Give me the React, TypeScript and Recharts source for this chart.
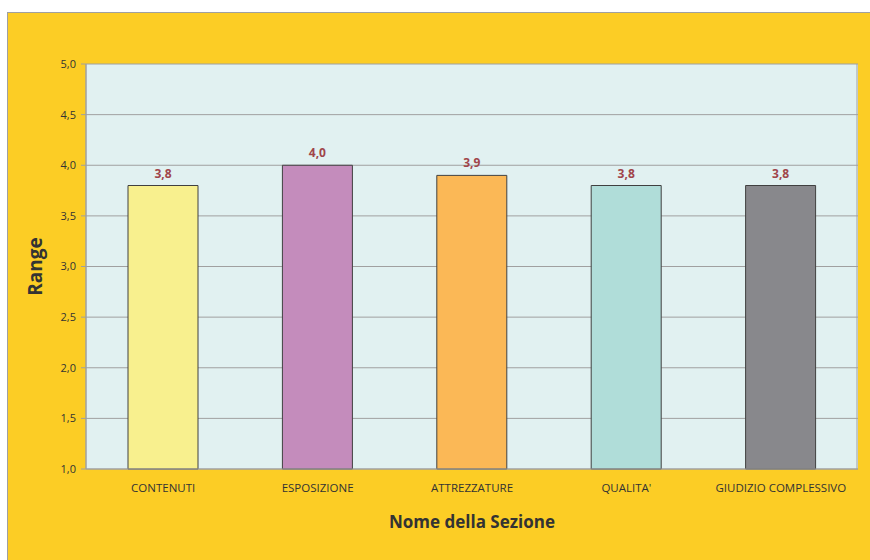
import { BarChart, Bar, XAxis, YAxis, CartesianGrid, LabelList, Cell } from "recharts";

const sections = ["CONTENUTI", "ESPOSIZIONE", "ATTREZZATURE", "QUALITA'", "GIUDIZIO COMPLESSIVO"];
const scores = [3.8, 4.0, 3.9, 3.8, 3.8];
const barColors = ["#F8F08E", "#C48CBC", "#FBB856", "#B0DDD9", "#88888C"];
const yTicks = [1, 1.5, 2, 2.5, 3, 3.5, 4, 4.5, 5];

const data = sections.map((name, i) => ({ name, score: scores[i] }));

const fmt = (v: number) => Number(v).toFixed(1).replace(".", ",");
const font = "'Open Sans', 'DejaVu Sans', sans-serif";

export default function App() {
  return (
    <div
      style={{
        position: "absolute",
        left: 7,
        top: 12,
        width: 863,
        height: 548,
        boxSizing: "border-box",
        background: "#FCCD25",
        borderTop: "1px solid #A0A0A0",
        borderLeft: "1px solid #A0A0A0",
        fontFamily: font,
      }}
    >
      <BarChart
        width={862}
        height={547}
        data={data}
        margin={{ top: 51, right: 12, bottom: 11, left: 18 }}
      >
        <CartesianGrid
          vertical
          verticalPoints={[78, 849]}
          fill="#E1F1F1"
          stroke="#A0A0A0"
          strokeOpacity={1}
        />
        <XAxis
          dataKey="name"
          height={80}
          tickLine={false}
          tickMargin={9}
          axisLine={{ stroke: "#A0A0A0" }}
          tick={{ fontSize: 11.5, fill: "#333", fontFamily: font }}
          interval={0}
          label={{
            value: "Nome della Sezione",
            position: "insideBottom",
            offset: 21,
            style: { fontSize: 17, fontWeight: "bold", fill: "#333", fontFamily: font },
          }}
        />
        <YAxis
          width={60}
          domain={[1, 5]}
          ticks={yTicks}
          tickFormatter={fmt}
          tickSize={5}
          tickMargin={5}
          axisLine={{ stroke: "#A0A0A0" }}
          tickLine={{ stroke: "#A0A0A0" }}
          tick={{ fontSize: 11, fill: "#333", fontFamily: font }}
          label={{
            value: "Range",
            angle: -90,
            position: "insideLeft",
            offset: 9,
            style: { textAnchor: "middle", fontSize: 19, fontWeight: "bold", fill: "#333", fontFamily: font },
          }}
        />
        <Bar dataKey="score" barSize={70} stroke="#404040" strokeWidth={1} isAnimationActive={false}>
          {data.map((d, i) => (
            <Cell key={d.name} fill={barColors[i]} />
          ))}
          <LabelList
            dataKey="score"
            position="top"
            offset={8}
            formatter={(v: number) => fmt(v)}
            style={{ fontSize: 12, fontWeight: "bold", fill: "#A0454A", fontFamily: font }}
          />
        </Bar>
      </BarChart>
    </div>
  );
}
